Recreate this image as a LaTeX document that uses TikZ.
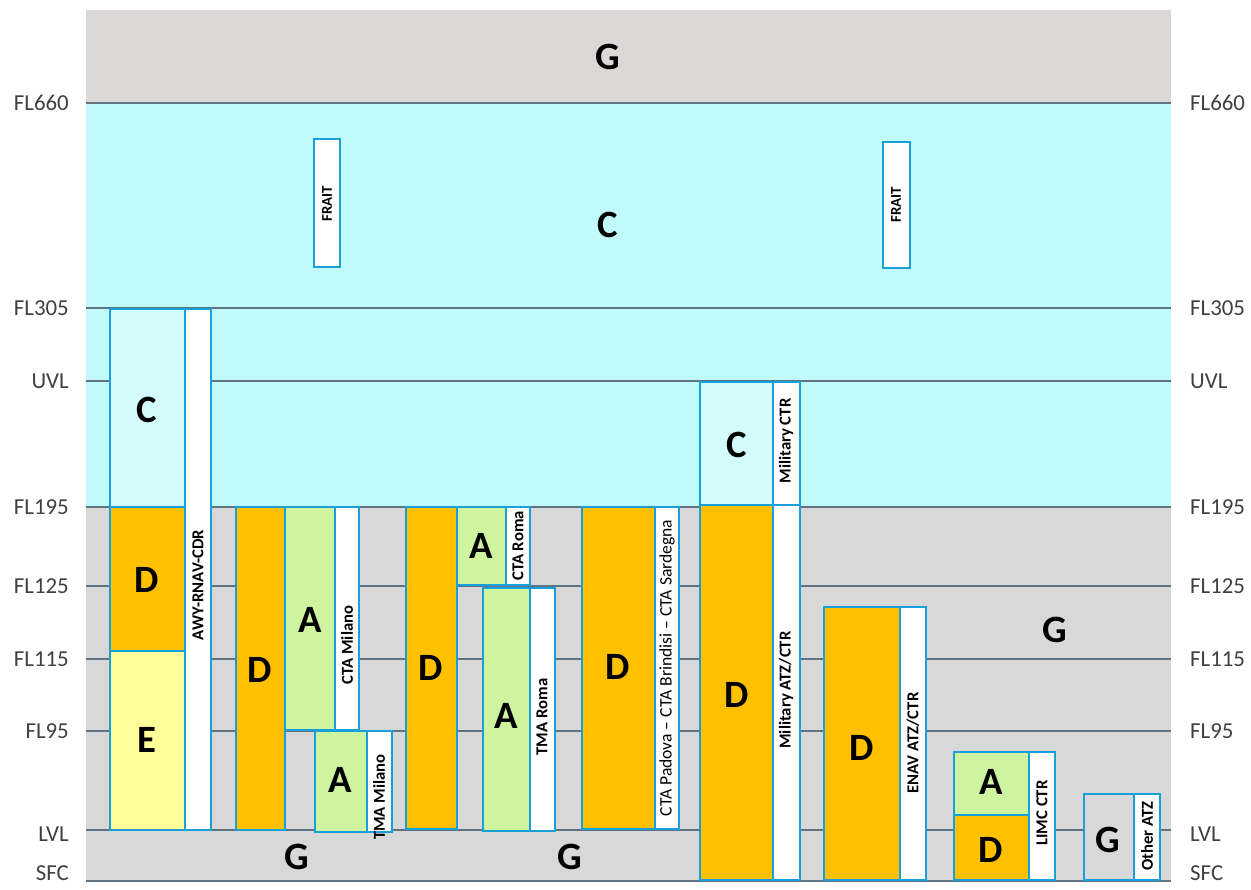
\documentclass[tikz,border=0pt]{standalone}
\usepackage{fontspec}
\setmainfont{Carlito}
\definecolor{skyC}{RGB}{192,250,250}
\definecolor{greyG}{RGB}{216,216,216}
\definecolor{greyTop}{RGB}{220,216,216}
\definecolor{clsD}{RGB}{255,192,0}
\definecolor{clsA}{RGB}{206,244,160}
\definecolor{clsE}{RGB}{255,255,153}
\definecolor{zoneblue}{RGB}{24,160,218}
\definecolor{flline}{RGB}{95,115,130}

\begin{document}
\begin{tikzpicture}[x=0.2mm,y=-0.2mm,
   zone/.style={draw=zoneblue,line width=0.55mm},
   cls/.style={font=\bfseries\fontsize{22}{22}\selectfont},
   tag/.style={rotate=90,font=\bfseries\fontsize{9.5}{10}\selectfont},
   fl/.style={font=\fontsize{13}{13}\selectfont,text=black!75}]
   \useasboundingbox (0,0) rectangle (1251,890);
   \fill[greyTop] (86,10)  rectangle (1171,103);
   \fill[skyC]    (86,103) rectangle (1171,507);
   \fill[greyG]   (86,507) rectangle (1171,881);
   \foreach \y/\lv/\ty in {103/FL660/103,308/FL305/308,381/UVL/381,507/FL195/507,586/FL125/586,659/FL115/659,731/FL95/731,830/LVL/834,881/SFC/873} {
      \draw[flline,line width=0.6pt] (86,\y) -- (1171,\y);
      \node[fl,anchor=east] (L\lv) at (75,\ty)   {\lv};
      \node[fl,anchor=west] (R\lv) at (1184,\ty) {\lv};
   }
   \draw[zone,fill=white] (314,139) rectangle (340,267);
   \draw[zone,fill=white] (883,142) rectangle (910,268);
   \draw[zone,fill=skyC!70!white] (110,309) rectangle (185,507);
   \draw[zone,fill=clsD]  (110,507) rectangle (185,651);
   \draw[zone,fill=clsE]  (110,651) rectangle (185,830);
   \draw[zone,fill=white] (185,309) rectangle (211,830);
   \draw[zone,fill=clsD]  (236,507) rectangle (285,830);
   \draw[zone,fill=clsA]  (285,507) rectangle (335,730);
   \draw[zone,fill=white] (335,507) rectangle (359,730);
   \draw[zone,fill=clsA]  (315,731) rectangle (367,832);
   \draw[zone,fill=white] (367,731) rectangle (392,832);
   \draw[zone,fill=clsD]  (406,507) rectangle (457,829);
   \draw[zone,fill=clsA]  (457,507) rectangle (506,585);
   \draw[zone,fill=white] (506,507) rectangle (530,585);
   \draw[zone,fill=clsA]  (483,588) rectangle (530,831);
   \draw[zone,fill=white] (530,588) rectangle (555,831);
   \draw[zone,fill=clsD]  (582,507) rectangle (655,829);
   \draw[zone,fill=white] (655,507) rectangle (679,829);
   \draw[zone,fill=skyC!70!white] (700,382) rectangle (773,505);
   \draw[zone,fill=white] (773,382) rectangle (800,505);
   \draw[zone,fill=clsD]  (700,505) rectangle (773,880);
   \draw[zone,fill=white] (773,505) rectangle (800,880);
   \draw[zone,fill=clsD]  (824,607) rectangle (900,880);
   \draw[zone,fill=white] (900,607) rectangle (926,880);
   \draw[zone,fill=clsA]  (954,752) rectangle (1029,815);
   \draw[zone,fill=clsD]  (954,815) rectangle (1029,880);
   \draw[zone,fill=white] (1029,752) rectangle (1055,880);
   \draw[zone,fill=greyG] (1084,794) rectangle (1134,880);
   \draw[zone,fill=white] (1134,794) rectangle (1160,880);
   \node[cls] (gTop)     at (608,57)   {G};
   \node[cls] (cTop)     at (608,225)  {C};
   \node[cls] (cAwy)     at (147,410)  {C};
   \node[cls] (dAwy)     at (147,580)  {D};
   \node[cls] (eAwy)     at (147,740)  {E};
   \node[cls] (dMilano)  at (260,670)  {D};
   \node[cls] (aMilano)  at (310,620)  {A};
   \node[cls] (aTmaMi)   at (340,780)  {A};
   \node[cls] (gLowA)    at (297,857)  {G};
   \node[cls] (dRoma)    at (431,668)  {D};
   \node[cls] (aRoma)    at (481,546)  {A};
   \node[cls] (aTmaRo)   at (506,716)  {A};
   \node[cls] (gLowB)    at (570,857)  {G};
   \node[cls] (dPadova)  at (618,667)  {D};
   \node[cls] (cMil)     at (737,445)  {C};
   \node[cls] (dMil)     at (737,695)  {D};
   \node[cls] (dEnav)    at (862,748)  {D};
   \node[cls] (gRight)   at (1055,630) {G};
   \node[cls] (aLimc)    at (991,782)  {A};
   \node[cls] (dLimc)    at (991,850)  {D};
   \node[cls] (gOther)   at (1108,840) {G};
   \node[tag,font=\bfseries\fontsize{8.5}{9}\selectfont] (fraitA) at (327,204) {FRAIT};
   \node[tag,font=\bfseries\fontsize{8.5}{9}\selectfont] (fraitB) at (896,205) {FRAIT};
   \node[tag] (tAwy)     at (198,585)  {AWY-RNAV-CDR};
   \node[tag] (tCtaMi)   at (347,645)  {CTA Milano};
   \node[tag] (tTmaMi)   at (379,797)  {TMA Milano};
   \node[tag] (tCtaRo)   at (518,546)  {CTA Roma};
   \node[tag] (tTmaRo)   at (542,717)  {TMA Roma};
   \node[tag,font=\fontsize{10}{10}\selectfont] (tPadova) at (667,668) {CTA Padova – CTA Brindisi – CTA Sardegna};
   \node[tag] (tMilCtr)  at (786,441)  {Military CTR};
   \node[tag] (tMilAtz)  at (786,690)  {Military ATZ/CTR};
   \node[tag] (tEnav)    at (913,743)  {ENAV ATZ/CTR};
   \node[tag] (tLimc)    at (1042,813) {LIMC CTR};
   \node[tag] (tOther)   at (1147,836) {Other ATZ};
\end{tikzpicture}
\end{document}
